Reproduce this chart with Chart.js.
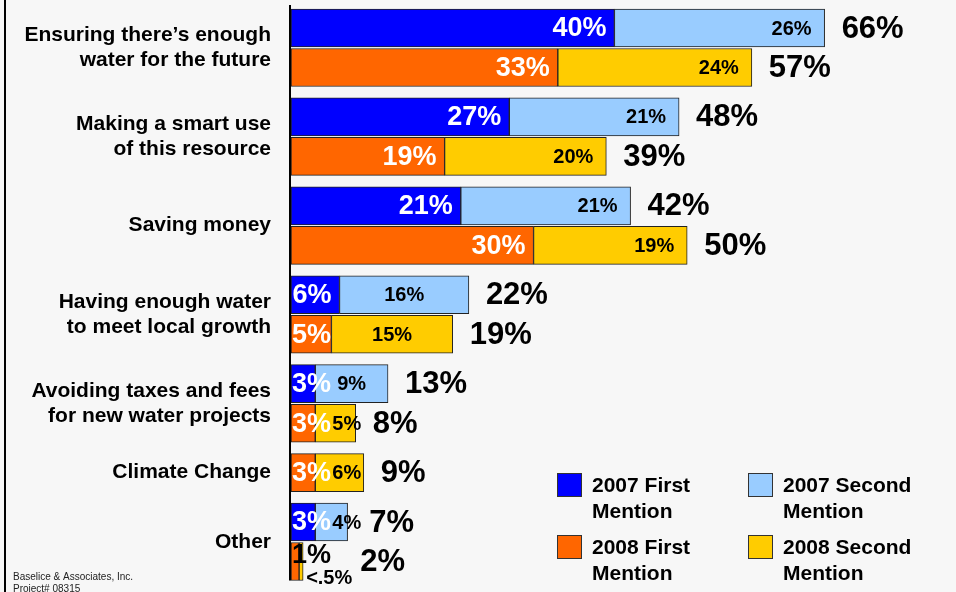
<!DOCTYPE html>
<html>
<head>
<meta charset="utf-8">
<script src="https://cdn.jsdelivr.net/npm/chart.js@4"></script>
<style>
html, body { margin: 0; padding: 0; background: #f7f7f7; }
#wrap { width: 956px; height: 592px; position: relative; }
</style>
</head>
<body>
<div id="wrap"><canvas id="chart"></canvas></div>
<script>
const categories = [
    ['Ensuring there\u2019s enough', 'water for the future'],
    ['Making a smart use', 'of this resource'],
    ['Saving money'],
    ['Having enough water', 'to meet local growth'],
    ['Avoiding taxes and fees', 'for new water projects'],
    ['Climate Change'],
    ['Other']
];
const first2007 = [40, 27, 21, 6, 3, null, 3];
const second2007 = [26, 21, 21, 16, 9, null, 4];
const total2007 = [66, 48, 42, 22, 13, null, 7];
const first2008 = [33, 19, 30, 5, 3, 3, 1];
const second2008 = [24, 20, 19, 15, 5, 6, 0.5];
const total2008 = [57, 39, 50, 19, 8, 9, 2];
const seriesNames = ['2007 First Mention', '2007 Second Mention', '2008 First Mention', '2008 Second Mention'];
const colors = ['#0000ff', '#99ccff', '#ff6600', '#ffcc00'];

const FONT = '"Liberation Sans", Arial, sans-serif';
const GROUP_GAP = 0.25;

// one row per year that has data, small extra gap between topics
let rowPos2007 = [], rowPos2008 = [], groupCenters = [];
let k = 0;
categories.forEach((c, g) => {
    const rows = [];
    if (first2007[g] !== null) { rowPos2007[g] = k + GROUP_GAP * g; rows.push(rowPos2007[g]); k++; }
    if (first2008[g] !== null) { rowPos2008[g] = k + GROUP_GAP * g; rows.push(rowPos2008[g]); k++; }
    groupCenters.push((rows[0] + rows[rows.length - 1]) / 2);
});

function points(values, pos) {
    return values.map((v, g) => v === null ? null : { x: v, y: pos[g], g: g }).filter(p => p);
}

const datasets = [
    { label: seriesNames[0], data: points(first2007, rowPos2007), backgroundColor: colors[0], mention: 1, year: 2007 },
    { label: seriesNames[1], data: points(second2007, rowPos2007), backgroundColor: colors[1], mention: 2, year: 2007, totals: total2007 },
    { label: seriesNames[2], data: points(first2008, rowPos2008), backgroundColor: colors[2], mention: 1, year: 2008 },
    { label: seriesNames[3], data: points(second2008, rowPos2008), backgroundColor: colors[3], mention: 2, year: 2008, totals: total2008 }
].map(d => Object.assign(d, {
    stack: 'all',
    borderColor: '#222',
    borderWidth: 1,
    borderSkipped: false,
    barThickness: 38
}));

const labelPlugin = {
    id: 'barLabels',
    afterDatasetsDraw(chart) {
        const ctx = chart.ctx;
        const rightEdge = {};
        let lowest = chart.chartArea.top;
        ctx.save();
        ctx.textBaseline = 'middle';
        chart.data.datasets.forEach((ds, i) => {
            const meta = chart.getDatasetMeta(i);
            meta.data.forEach((bar, j) => {
                const p = ds.data[j];
                const v = p.x;
                const start = Math.min(bar.base, bar.x), end = Math.max(bar.base, bar.x);
                const key = ds.year + '-' + p.g;
                lowest = Math.max(lowest, bar.y + bar.height / 2);
                let right;
                if (ds.mention === 1) {
                    const text = v + '%';
                    ctx.font = 'bold 27px ' + FONT;
                    const w = ctx.measureText(text).width;
                    const tx = Math.max(end - 8, start + 1 + w);
                    const tiny = end - start < 12;
                    ctx.fillStyle = tiny ? '#000' : '#fff';
                    ctx.textAlign = 'right';
                    ctx.fillText(text, tx, bar.y + (tiny ? -6 : 1));
                    rightEdge[key] = tx;
                } else {
                    ctx.font = 'bold 20px ' + FONT;
                    ctx.fillStyle = '#000';
                    if (v < 1) {
                        const text = '<.5%';
                        const w = ctx.measureText(text).width;
                        ctx.textAlign = 'left';
                        ctx.fillText(text, end + 3, bar.y + 17);
                        right = end + 3 + w;
                    } else {
                        const text = v + '%';
                        const w = ctx.measureText(text).width;
                        let cx;
                        if (end - start > 150) cx = end - 13 - w / 2;
                        else cx = Math.max((start + end) / 2, start + 17 + w / 2);
                        ctx.textAlign = 'center';
                        ctx.fillText(text, cx, bar.y + 1);
                        right = cx + w / 2;
                    }
                    ctx.font = 'bold 31px ' + FONT;
                    ctx.textAlign = 'left';
                    const tx = Math.max(end + 17, Math.max(right, rightEdge[key] || 0) + 8);
                    ctx.fillText(ds.totals[p.g] + '%', tx, bar.y + 1);
                }
            });
        });
        // category axis line, down to the last bar
        const left = chart.chartArea.left;
        ctx.fillStyle = '#000';
        ctx.fillRect(left - 2, chart.chartArea.top, 2, lowest - chart.chartArea.top);
        ctx.restore();
    }
};

const decorPlugin = {
    id: 'decor',
    afterDraw(chart) {
        const ctx = chart.ctx;
        ctx.save();
        // left frame line
        ctx.fillStyle = '#000';
        ctx.fillRect(4, 0, 2, chart.height);

        // legend, two by two
        const cols = [557, 748], rows = [473, 535];
        chart.data.datasets.forEach((ds, i) => {
            const x = cols[i % 2], y = rows[Math.floor(i / 2)];
            ctx.fillStyle = ds.backgroundColor;
            ctx.fillRect(x, y, 25, 24);
            ctx.strokeStyle = '#333';
            ctx.lineWidth = 1;
            ctx.strokeRect(x + 0.5, y + 0.5, 24, 23);
            const cut = ds.label.lastIndexOf(' ');
            ctx.fillStyle = '#000';
            ctx.font = 'bold 21px ' + FONT;
            ctx.textAlign = 'left';
            ctx.textBaseline = 'middle';
            ctx.fillText(ds.label.slice(0, cut), x + 35, y + 13);
            ctx.fillText(ds.label.slice(cut + 1), x + 35, y + 39);
        });

        // footer
        ctx.font = '10px ' + FONT;
        ctx.fillStyle = '#222';
        ctx.textBaseline = 'alphabetic';
        ctx.fillText('Baselice & Associates, Inc.', 13, 580);
        ctx.fillText('Project# 08315', 13, 592);
        ctx.restore();
    }
};

new Chart(document.getElementById('chart'), {
    type: 'bar',
    data: { datasets: datasets },
    options: {
        indexAxis: 'y',
        responsive: true,
        maintainAspectRatio: false,
        animation: false,
        layout: { padding: { top: 5, right: 2, bottom: 0, left: 0 } },
        plugins: {
            legend: { display: false },
            tooltip: { enabled: false }
        },
        scales: {
            x: {
                type: 'linear',
                stacked: true,
                min: 0,
                max: 82,
                display: false
            },
            y: {
                type: 'linear',
                reverse: true,
                offset: false,
                min: -0.582,
                max: 14.271,
                grid: { display: false, drawTicks: false },
                border: { display: false },
                afterBuildTicks: s => { s.ticks = groupCenters.map(v => ({ value: v })); },
                afterFit: s => { s.width = 291; s.paddingTop = 0; s.paddingBottom = 0; },
                ticks: {
                    autoSkip: false,
                    padding: 20,
                    color: '#000',
                    font: { family: FONT, size: 21, weight: 'bold', lineHeight: 1.2 },
                    callback: (v, i) => categories[i]
                }
            }
        }
    },
    plugins: [labelPlugin, decorPlugin]
});
</script>
</body>
</html>
